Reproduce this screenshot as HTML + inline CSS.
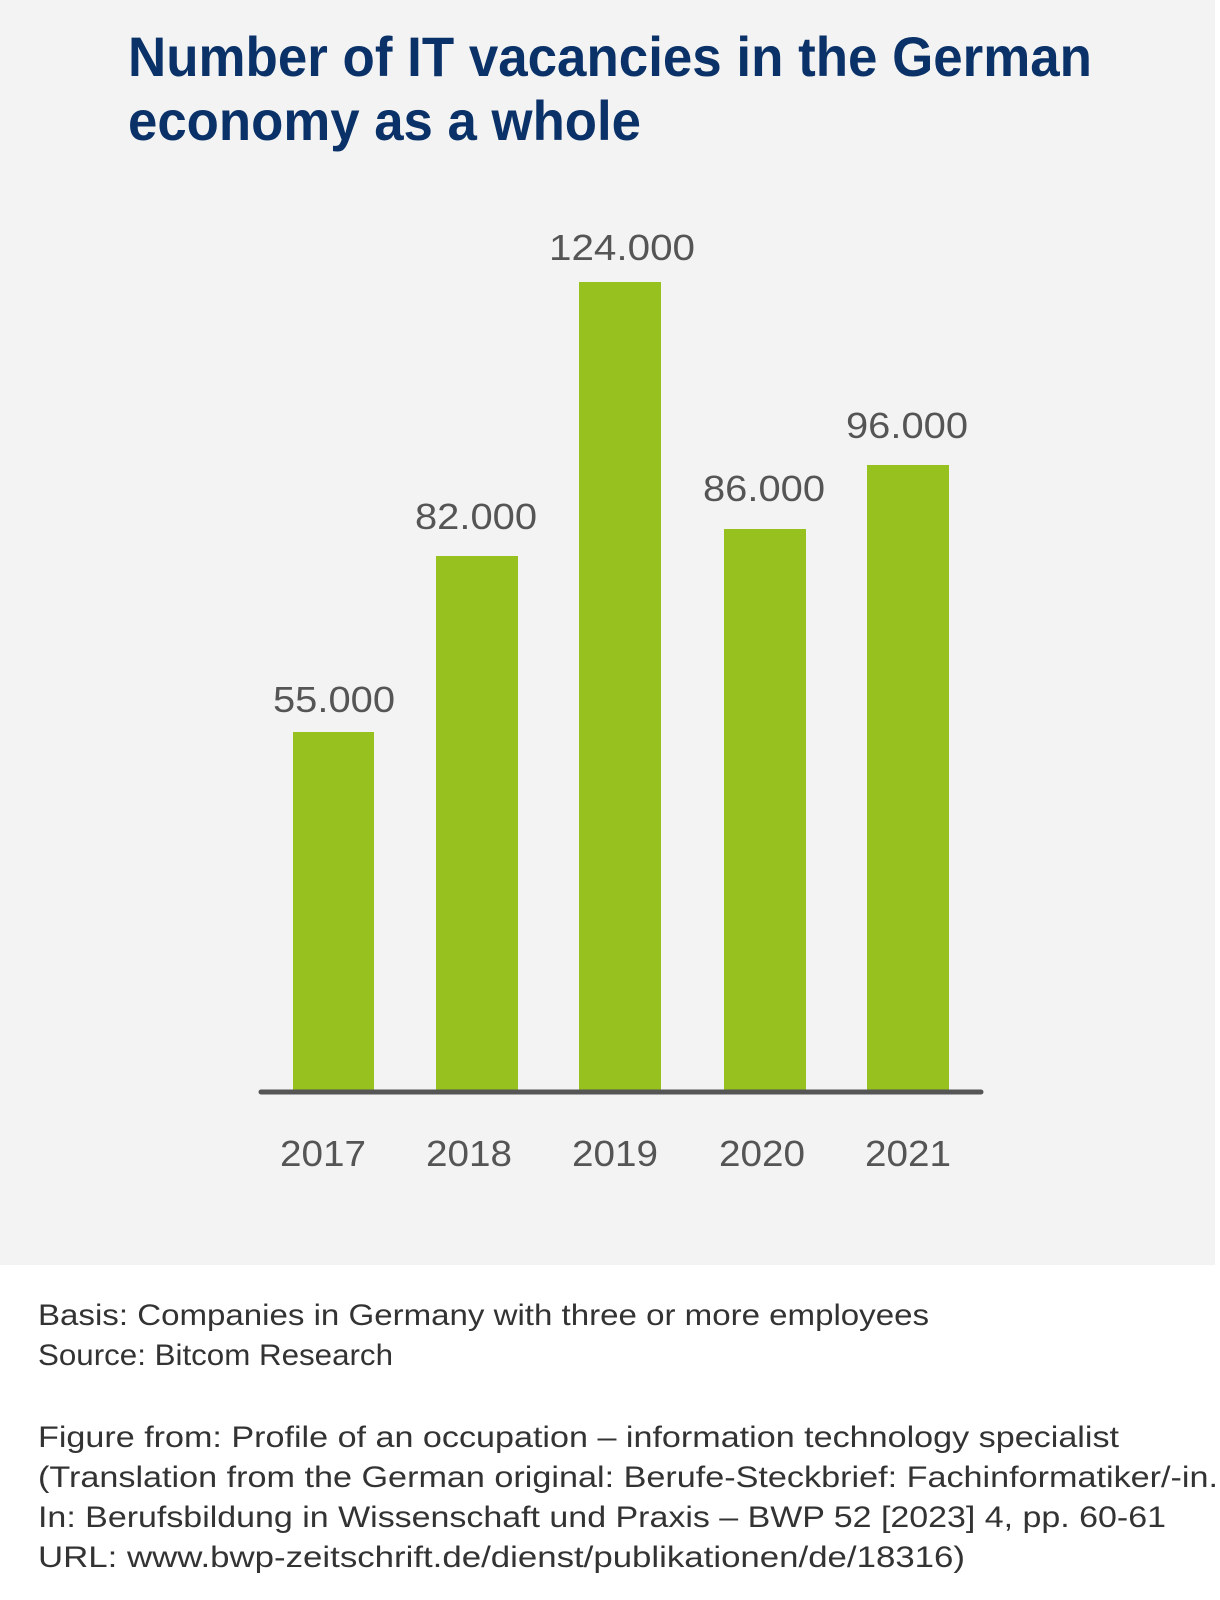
<!DOCTYPE html>
<html><head><meta charset="utf-8"><style>
html,body{margin:0;padding:0;background:#fff;}
svg{display:block;}
</style></head><body>
<svg width="1220" height="1600" viewBox="0 0 1220 1600" xmlns="http://www.w3.org/2000/svg">
<rect x="0" y="0" width="1215" height="1265" fill="#f3f3f3"/>
<g font-family="Liberation Sans, sans-serif" font-weight="bold" fill="#0b3268" font-size="56">
<text x="128" y="76" textLength="964" lengthAdjust="spacingAndGlyphs">Number of IT vacancies in the German</text>
<text x="128" y="140" textLength="513" lengthAdjust="spacingAndGlyphs">economy as a whole</text>
</g>
<g fill="#97c11f">
<rect x="293" y="732" width="81" height="358"/>
<rect x="436" y="556" width="82" height="534"/>
<rect x="579" y="282" width="82" height="808"/>
<rect x="724" y="529" width="82" height="561"/>
<rect x="867" y="465" width="82" height="625"/>
</g>
<line x1="261" y1="1092" x2="981" y2="1092" stroke="#555" stroke-width="5" stroke-linecap="round"/>
<g font-family="Liberation Sans, sans-serif" fill="#555" font-size="36" text-anchor="middle">
<text x="334" y="712" textLength="122" lengthAdjust="spacingAndGlyphs">55.000</text>
<text x="476" y="529" textLength="122" lengthAdjust="spacingAndGlyphs">82.000</text>
<text x="622" y="260" textLength="146" lengthAdjust="spacingAndGlyphs">124.000</text>
<text x="764" y="501" textLength="122" lengthAdjust="spacingAndGlyphs">86.000</text>
<text x="907" y="438" textLength="122" lengthAdjust="spacingAndGlyphs">96.000</text>
<text x="323" y="1166" textLength="86" lengthAdjust="spacingAndGlyphs">2017</text>
<text x="469" y="1166" textLength="86" lengthAdjust="spacingAndGlyphs">2018</text>
<text x="615" y="1166" textLength="86" lengthAdjust="spacingAndGlyphs">2019</text>
<text x="762" y="1166" textLength="86" lengthAdjust="spacingAndGlyphs">2020</text>
<text x="908" y="1166" textLength="86" lengthAdjust="spacingAndGlyphs">2021</text>
</g>
<g font-family="Liberation Sans, sans-serif" fill="#333" font-size="30">
<text x="38" y="1325" textLength="891" lengthAdjust="spacingAndGlyphs">Basis: Companies in Germany with three or more employees</text>
<text x="38" y="1365" textLength="355" lengthAdjust="spacingAndGlyphs">Source: Bitcom Research</text>
<text x="38" y="1447" textLength="1081" lengthAdjust="spacingAndGlyphs">Figure from: Profile of an occupation – information technology specialist</text>
<text x="38" y="1487" textLength="1180" lengthAdjust="spacingAndGlyphs">(Translation from the German original: Berufe-Steckbrief: Fachinformatiker/-in.</text>
<text x="38" y="1527" textLength="1128" lengthAdjust="spacingAndGlyphs">In: Berufsbildung in Wissenschaft und Praxis – BWP 52 [2023] 4, pp. 60-61</text>
<text x="38" y="1567" textLength="927" lengthAdjust="spacingAndGlyphs">URL: www.bwp-zeitschrift.de/dienst/publikationen/de/18316)</text>
</g>
</svg>
</body></html>
